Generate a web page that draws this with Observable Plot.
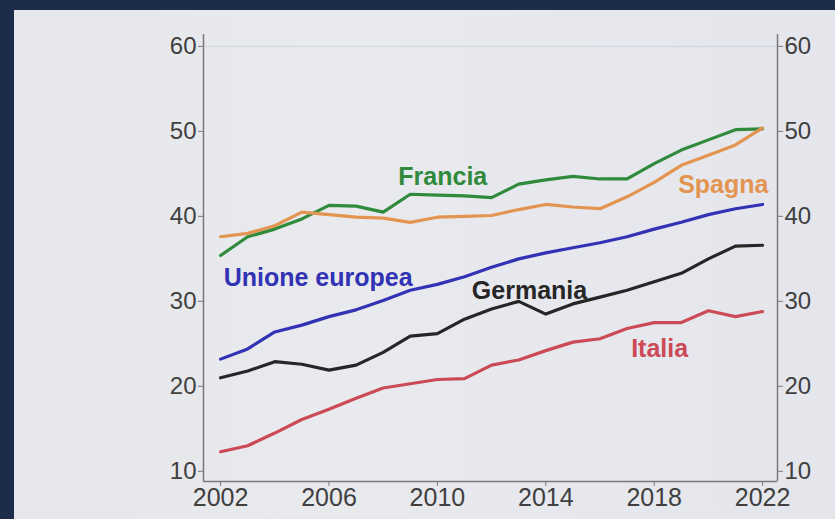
<!DOCTYPE html>
<html>
<head>
<meta charset="utf-8">
<script src="https://cdn.jsdelivr.net/npm/d3@7"></script>
<script src="https://cdn.jsdelivr.net/npm/@observablehq/plot@0.6"></script>
<style>
  html, body { margin: 0; padding: 0; }
  body { background: #1d2c4a; width: 835px; height: 519px; overflow: hidden; }
  #screen { position: absolute; left: 14px; top: 10px; width: 821px; height: 509px;
    background: linear-gradient(90deg, #e6e7ea 0%, #e9eaee 40%, #e4e6ec 100%); }
  #screen svg { display: block; }
</style>
</head>
<body>
<div id="screen"></div>
<script>
const years = [2002, 2003, 2004, 2005, 2006, 2007, 2008, 2009, 2010, 2011, 2012,
               2013, 2014, 2015, 2016, 2017, 2018, 2019, 2020, 2021, 2022];

const francia  = [35.4, 37.6, 38.5, 39.7, 41.3, 41.2, 40.5, 42.6, 42.5, 42.4, 42.2,
                  43.8, 44.3, 44.7, 44.4, 44.4, 46.2, 47.8, 49.0, 50.2, 50.3];
const spagna   = [37.6, 38.0, 38.9, 40.5, 40.2, 39.9, 39.8, 39.3, 39.9, 40.0, 40.1,
                  40.8, 41.4, 41.1, 40.9, 42.3, 44.0, 46.0, 47.2, 48.4, 50.4];
const ue       = [23.2, 24.4, 26.4, 27.2, 28.2, 29.0, 30.1, 31.3, 32.0, 32.9, 34.0,
                  35.0, 35.7, 36.3, 36.9, 37.6, 38.5, 39.3, 40.2, 40.9, 41.4];
const germania = [21.0, 21.8, 22.9, 22.6, 21.9, 22.5, 24.0, 25.9, 26.2, 27.9, 29.1,
                  30.0, 28.5, 29.7, 30.5, 31.3, 32.3, 33.3, 35.0, 36.5, 36.6];
const italia   = [12.3, 13.0, 14.5, 16.1, 17.3, 18.6, 19.8, 20.3, 20.8, 20.9, 22.5,
                  23.1, 24.2, 25.2, 25.6, 26.8, 27.5, 27.5, 28.9, 28.2, 28.8];

const seriesNames = ["Francia", "Spagna", "Unione europea", "Germania", "Italia"];
const seriesValues = [francia, spagna, ue, germania, italia];
const seriesColors = ["#2f8a3c", "#e39450", "#3232b4", "#262626", "#cc4a56"];

// label anchor positions in data units (year, value)
const labelYear  = [2010.2, 2020.55, 2005.6, 2013.4, 2018.2];
const labelValue = [44.6, 43.7, 32.8, 31.2, 24.4];

const xTicks = [2002, 2006, 2010, 2014, 2018, 2022];
const yTicks = [10, 20, 30, 40, 50, 60];
const xDomain = [2001.37, 2022.55];
const yDomain = [8.8, 61.4];

const rows = seriesNames.flatMap((name, i) =>
  years.map((yr, j) => ({name, year: yr, value: seriesValues[i][j]})));
const labels = seriesNames.map((name, i) => ({name, year: labelYear[i], value: labelValue[i]}));

const colorScale = {domain: seriesNames, range: seriesColors};

const chart = Plot.plot({
  width: 821,
  height: 509,
  marginLeft: 189,
  marginRight: 58,
  marginTop: 24,
  marginBottom: 38,
  style: {background: "transparent", fontFamily: "'Liberation Sans', Arial, sans-serif", color: "#3a3a3a"},
  x: {domain: xDomain},
  y: {domain: yDomain},
  color: colorScale,
  marks: [
    Plot.ruleY([60], {stroke: "#d2d5dc", strokeWidth: 1}),
    Plot.ruleX([xDomain[0]], {stroke: "#7a7a7a", strokeWidth: 1.5}),
    Plot.ruleX([xDomain[1]], {stroke: "#7a7a7a", strokeWidth: 1.5}),
    Plot.ruleY([yDomain[0]], {stroke: "#7a7a7a", strokeWidth: 1.5}),
    Plot.axisY({anchor: "left", ticks: yTicks, tickSize: 5, tickPadding: 2,
                fontSize: 24, stroke: "#7a7a7a", fill: "#404040", label: null}),
    Plot.axisY({anchor: "right", ticks: yTicks, tickSize: 5, tickPadding: 2,
                fontSize: 24, stroke: "#7a7a7a", fill: "#404040", label: null}),
    Plot.axisX({ticks: xTicks, tickFormat: d => String(d), tickSize: 5, tickPadding: 2,
                fontSize: 25, stroke: "#7a7a7a", fill: "#404040", label: null}),
    Plot.line(rows, {x: "year", y: "value", z: "name", stroke: "name",
                     strokeWidth: 3.2, strokeLinejoin: "round", strokeLinecap: "round"}),
    Plot.text(labels, {x: "year", y: "value", text: "name", fill: "name",
                       fontSize: 25, fontWeight: "bold", textAnchor: "middle"})
  ]
});
document.getElementById("screen").appendChild(chart);
</script>
</body>
</html>
